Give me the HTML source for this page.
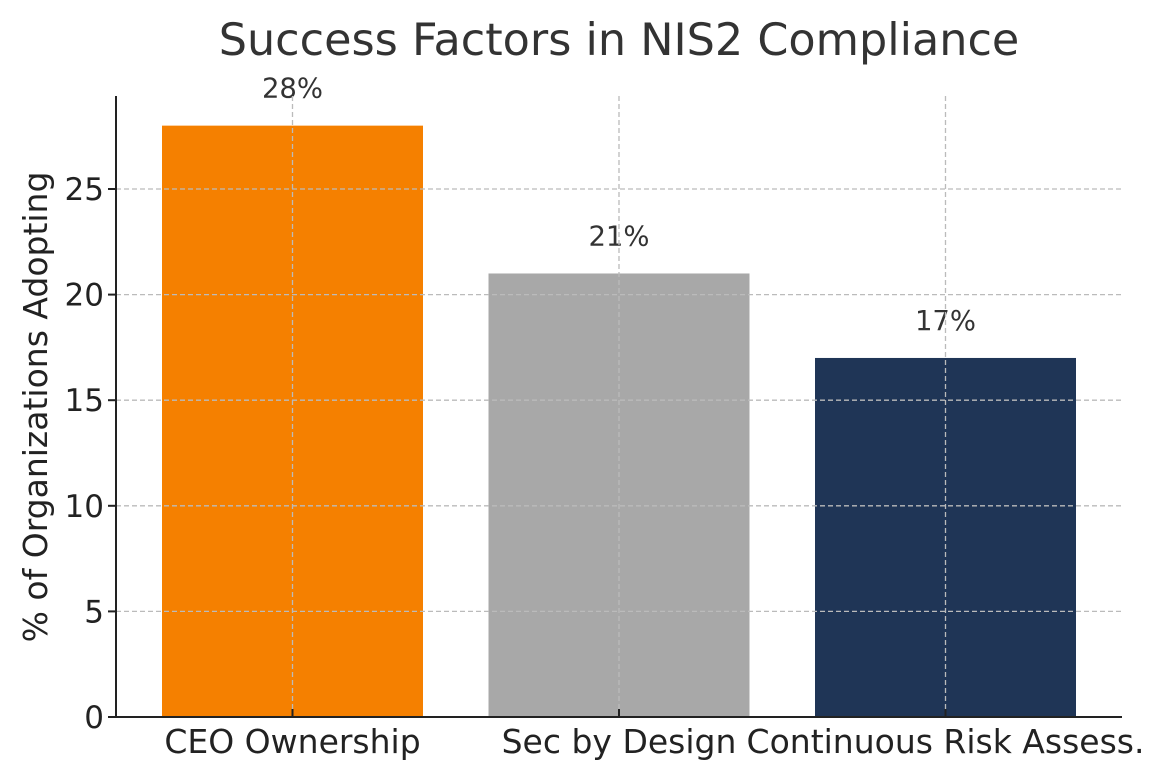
<!DOCTYPE html>
<html><head><meta charset="utf-8"><style>
body{margin:0;background:#fff;}
svg{display:block;font-family:"DejaVu Sans","Liberation Sans",sans-serif;}
</style></head><body>
<svg id="chart" width="1166" height="780">
<text x="619" y="55" text-anchor="middle" font-size="44.5" fill="#333">Success Factors in NIS2 Compliance</text>
<text transform="translate(47,407) rotate(-90)" text-anchor="middle" font-size="33" fill="#222">% of Organizations Adopting</text>
<g id="bars"></g><g id="grid"></g><g id="ticks"></g>
<line x1="116" y1="96" x2="116" y2="717" stroke="#222" stroke-width="2"/>
<line x1="116" y1="717" x2="1122" y2="717" stroke="#222" stroke-width="2"/>
</svg>
<script>
const categories=["CEO Ownership","Sec by Design","Continuous Risk Assess."];
const values=[28,21,17];
const labels=["28%","21%","17%"];
const colors=["#f58000","#a8a8a8","#1f3556"];
const yTicks=[0,5,10,15,20,25];
const NS="http://www.w3.org/2000/svg";
const y=v=>717-v*21.12;
const x=i=>292.5+i*326.5;
const bw=261;
function mk(t,a,p){const e=document.createElementNS(NS,t);for(const k in a)e.setAttribute(k,a[k]);p.appendChild(e);return e;}
const gB=document.getElementById('bars'),gG=document.getElementById('grid'),gT=document.getElementById('ticks');
categories.forEach((c,i)=>{
 const r=mk('rect',{x:x(i)-bw/2,y:y(values[i]),width:bw,height:717-y(values[i]),fill:colors[i]},gB);
 
 
 const t=mk('text',{x:x(i),y:y(values[i])-28,'text-anchor':'middle','font-size':'27.5',fill:'#333'},gB);
 t.textContent=labels[i];
 
 
 const gl=mk('line',{x1:x(i),x2:x(i),y1:96,y2:717,stroke:'#bbb','stroke-width':1.3,'stroke-dasharray':'5,3'},gG);
 
 
 mk('line',{x1:x(i),x2:x(i),y1:717,y2:709,stroke:'#222','stroke-width':2},gT);
 const xl=mk('text',{x:x(i),y:753,'text-anchor':'middle','font-size':'33',fill:'#222'},gT);
 xl.textContent=c;
 
 
});
yTicks.forEach(v=>{
 if(v>0){const gl=mk('line',{x1:116,x2:1122,y1:y(v),y2:y(v),stroke:'#bbb','stroke-width':1.3,'stroke-dasharray':'5,3'},gG);
 
 }
 mk('line',{x1:108,x2:116,y1:y(v),y2:y(v),stroke:'#222','stroke-width':2},gT);
 const t=mk('text',{x:104,y:y(v)+11,'text-anchor':'end','font-size':'31',fill:'#222'},gT);
 t.textContent=v;
 
 
});
</script>
</body></html>
